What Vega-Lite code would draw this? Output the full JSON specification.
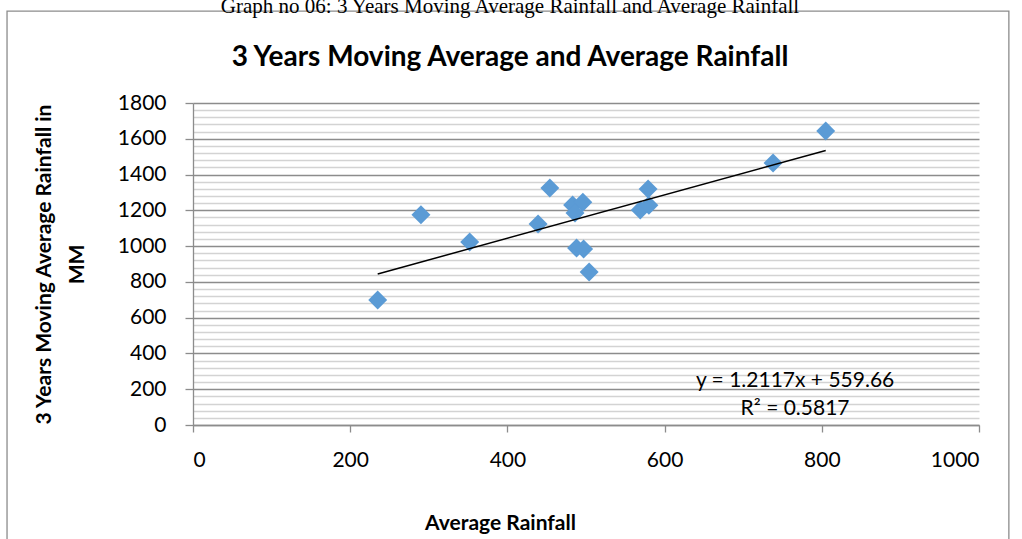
{
  "$schema": "https://vega.github.io/schema/vega-lite/v6.json",
  "width": 786,
  "height": 322,
  "autosize": {"type": "none"},
  "padding": {"left": 193, "top": 103, "right": 43, "bottom": 114},
  "background": "white",
  "config": {"view": {"stroke": null}, "font": "Lato"},
  "title": {
    "text": "Graph no 06:  3 Years Moving Average Rainfall and Average Rainfall",
    "font": "Liberation Serif",
    "fontSize": 21,
    "fontWeight": "normal",
    "color": "black",
    "subtitle": "3 Years Moving Average and Average Rainfall",
    "subtitleFont": "Lato",
    "subtitleFontSize": 28,
    "subtitleFontWeight": "bold",
    "subtitleColor": "black",
    "subtitlePadding": 27,
    "anchor": "middle",
    "dx": -76,
    "offset": -62
  },
  "datasets": {
    "points": [
      {"avg": 235, "ma3": 699},
      {"avg": 290, "ma3": 1175},
      {"avg": 352, "ma3": 1023},
      {"avg": 439, "ma3": 1124},
      {"avg": 454, "ma3": 1325},
      {"avg": 483, "ma3": 1230},
      {"avg": 496, "ma3": 1245},
      {"avg": 486, "ma3": 1185},
      {"avg": 488, "ma3": 989},
      {"avg": 497, "ma3": 984},
      {"avg": 504, "ma3": 855},
      {"avg": 569, "ma3": 1202},
      {"avg": 579, "ma3": 1319},
      {"avg": 580, "ma3": 1228},
      {"avg": 738, "ma3": 1465},
      {"avg": 805, "ma3": 1643}
    ],
    "trend": [
      {"avg": 235, "ma3": 844},
      {"avg": 805, "ma3": 1535}
    ]
  },
  "resolve": {"axis": {"y": "independent"}},
  "layer": [
    {
      "data": {"values": [{}]},
      "mark": {"type": "rect", "fill": null, "stroke": "#8c8c8c", "strokeWidth": 1.3, "clip": false},
      "encoding": {
        "x": {"datum": -236.6, "type": "quantitative", "scale": {"domain": [0, 1000], "nice": false}},
        "x2": {"datum": 1038},
        "y": {"datum": 2314, "type": "quantitative", "scale": {"domain": [0, 1800], "nice": false}, "axis": null},
        "y2": {"datum": -700}
      }
    },
    {
      "data": {"name": "points"},
      "mark": {"type": "point", "shape": "diamond", "filled": true, "color": "#5B9BD5", "opacity": 1, "size": 360},
      "encoding": {
        "x": {
          "field": "avg", "type": "quantitative",
          "scale": {"domain": [0, 1000], "nice": false},
          "axis": {
            "values": [0, 200, 400, 600, 800, 1000],
            "format": "d",
            "grid": false,
            "domainColor": "#8c8c8c",
            "domainWidth": 1.3,
            "tickColor": "#8c8c8c",
            "tickWidth": 1.3,
            "tickSize": 7,
            "labelFont": "Lato",
            "labelFontSize": 21,
            "labelColor": "black",
            "labelPadding": 17,
            "title": "Average Rainfall",
            "titleFont": "Lato",
            "titleFontSize": 21,
            "titleFontWeight": "bold",
            "titleColor": "black",
            "titleX": 307,
            "titlePadding": 42
          }
        },
        "y": {
          "field": "ma3", "type": "quantitative",
          "scale": {"domain": [0, 1800], "nice": false},
          "axis": {
            "orient": "left",
            "values": [40, 80, 120, 160, 240, 280, 320, 360, 440, 480, 520, 560, 640, 680, 720, 760, 840, 880, 920, 960, 1040, 1080, 1120, 1160, 1240, 1280, 1320, 1360, 1440, 1480, 1520, 1560, 1640, 1680, 1720, 1760],
            "grid": true,
            "gridColor": "#d3d3d3",
            "gridWidth": 1.5,
            "labels": false,
            "ticks": false,
            "domain": false,
            "title": null
          }
        }
      }
    },
    {
      "data": {"name": "trend"},
      "mark": {"type": "line", "color": "black", "strokeWidth": 1.5},
      "encoding": {
        "x": {"field": "avg", "type": "quantitative", "scale": {"domain": [0, 1000], "nice": false}},
        "y": {
          "field": "ma3", "type": "quantitative",
          "scale": {"domain": [0, 1800], "nice": false},
          "axis": {
            "orient": "left",
            "values": [0, 200, 400, 600, 800, 1000, 1200, 1400, 1600, 1800],
            "format": "d",
            "grid": true,
            "gridColor": "#8c8c8c",
            "gridWidth": 1.3,
            "domainColor": "#8c8c8c",
            "domainWidth": 1.3,
            "tickColor": "#8c8c8c",
            "tickWidth": 1.3,
            "tickSize": 8,
            "labelFont": "Lato",
            "labelFontSize": 21,
            "labelColor": "black",
            "labelPadding": 19,
            "title": ["3 Years Moving Average Rainfall in", "MM"],
            "titleFont": "Lato",
            "titleFontSize": 21,
            "titleFontWeight": "bold",
            "titleColor": "black",
            "titleLineHeight": 33,
            "titlePadding": 30
          }
        }
      }
    },
    {
      "data": {"values": [{}]},
      "mark": {"type": "text", "font": "Lato", "fontSize": 21, "color": "black", "align": "center", "baseline": "middle", "lineBreak": "\n", "lineHeight": 28, "text": "y = 1.2117x + 559.66\nR² = 0.5817"},
      "encoding": {
        "x": {"datum": 766, "type": "quantitative", "scale": {"domain": [0, 1000], "nice": false}},
        "y": {"datum": 246, "type": "quantitative", "scale": {"domain": [0, 1800], "nice": false}, "axis": null}
      }
    }
  ]
}
